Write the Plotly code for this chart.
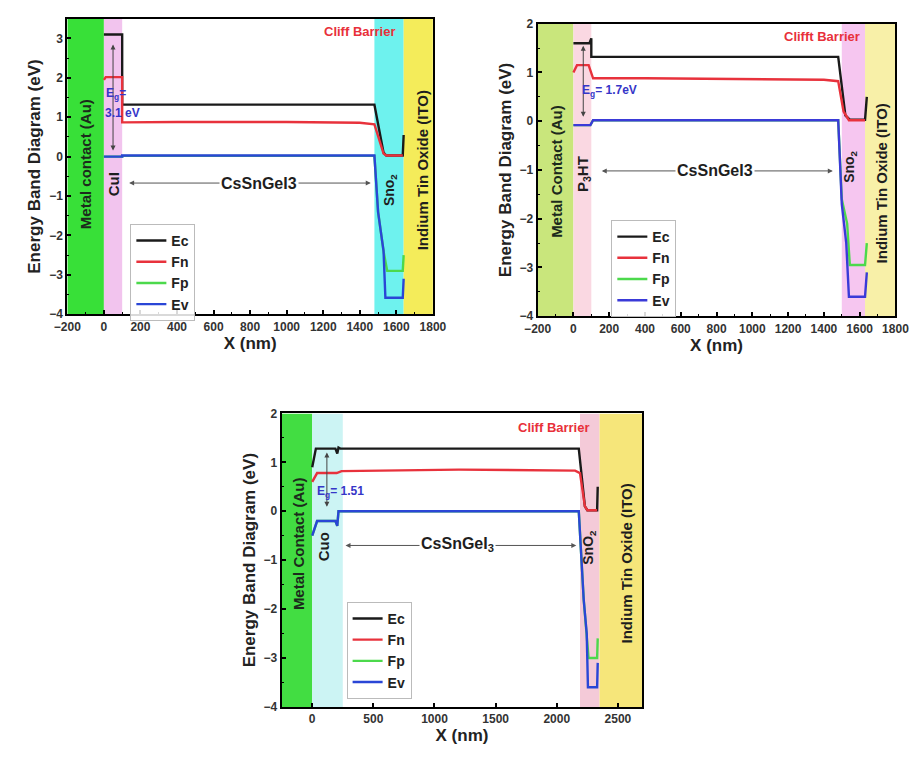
import plotly.graph_objects as go

# ---------------- data ----------------
# Panel A : Au / CuI / CsSnGeI3 / SnO2 / ITO
a_ec_x = [0, 100, 100, 1480, 1530, 1545, 1635, 1640]
a_ec_y = [3.1, 3.1, 1.32, 1.32, 0.1, 0.03, 0.03, 0.55]
a_fn_x = [0, 10, 100, 100, 400, 1000, 1400, 1480, 1530, 1545, 1635]
a_fn_y = [1.95, 2.02, 2.02, 0.87, 0.88, 0.88, 0.86, 0.82, 0.08, 0.03, 0.03]
a_fp_x = [0, 100, 100, 1480, 1500, 1530, 1550, 1635, 1640]
a_fp_y = [0.0, 0.0, 0.02, 0.02, -1.4, -2.4, -2.9, -2.9, -2.5]
a_ev_x = [0, 100, 100, 1480, 1500, 1530, 1540, 1635, 1640]
a_ev_y = [0.0, 0.0, 0.03, 0.03, -1.4, -2.4, -3.58, -3.58, -3.1]

# Panel B : Au / P3HT / CsSnGeI3 / SnO2 / ITO
b_ec_x = [0, 90, 95, 100, 100, 1480, 1520, 1545, 1630, 1640]
b_ec_y = [1.6, 1.6, 1.65, 1.7, 1.32, 1.32, 0.12, 0.03, 0.03, 0.5]
b_fn_x = [0, 20, 85, 110, 400, 1000, 1400, 1480, 1510, 1540, 1630]
b_fn_y = [1.0, 1.15, 1.15, 0.88, 0.88, 0.87, 0.85, 0.82, 0.2, 0.02, 0.02]
b_fp_x = [0, 95, 110, 1480, 1500, 1530, 1545, 1630, 1640]
b_fp_y = [-0.08, -0.08, 0.02, 0.02, -1.6, -2.1, -2.95, -2.95, -2.5]
b_ev_x = [0, 95, 110, 1480, 1500, 1525, 1540, 1630, 1640]
b_ev_y = [-0.08, -0.08, 0.02, 0.02, -1.7, -2.5, -3.6, -3.6, -3.1]

# Panel C : Au / CuO / CsSnGeI3 / SnO2 / ITO
c_ec_x = [0, 30, 190, 205, 215, 230, 1200, 2180, 2230, 2250, 2330, 2335]
c_ec_y = [0.9, 1.28, 1.28, 1.18, 1.3, 1.28, 1.28, 1.28, 0.1, 0.02, 0.02, 0.5]
c_fn_x = [0, 40, 200, 240, 1200, 2150, 2190, 2230, 2250, 2330]
c_fn_y = [0.6, 0.78, 0.78, 0.82, 0.85, 0.83, 0.78, 0.1, 0.02, 0.02]
c_fp_x = [0, 40, 190, 205, 215, 230, 2180, 2220, 2245, 2260, 2330, 2335]
c_fp_y = [-0.5, -0.2, -0.2, -0.3, 0.0, 0.0, 0.0, -1.8, -2.5, -3.0, -3.0, -2.6]
c_ev_x = [0, 40, 190, 205, 215, 230, 2180, 2220, 2245, 2255, 2330, 2335]
c_ev_y = [-0.5, -0.2, -0.2, -0.3, 0.0, 0.0, 0.0, -1.8, -2.5, -3.6, -3.6, -3.1]

series_names = ["Ec", "Fn", "Fp", "Ev"]
series_colors = ["#1a1a1a", "#e8323c", "#4cd94c", "#2a46d6"]

# layer regions (x start, x end, colour)
a_layers = [(-200, 0, "#38e038"), (0, 100, "#f2c4ee"), (1480, 1640, "#6ef2ee"), (1640, 1800, "#f4ec5a")]
b_layers = [(-200, 0, "#c9e67c"), (0, 100, "#fad8e2"), (1500, 1630, "#f6c6f0"), (1630, 1800, "#f8f0a8")]
c_layers = [(-250, 0, "#42dd42"), (0, 250, "#ccf4f4"), (2190, 2350, "#f4cad8"), (2350, 2700, "#f6e67a")]

fig = go.Figure()

panels = [
    dict(xa="x", ya="y", leg="legend",
         data=[(a_ec_x, a_ec_y), (a_fn_x, a_fn_y), (a_fp_x, a_fp_y), (a_ev_x, a_ev_y)], layers=a_layers,
         yr=[-4, 3.5]),
    dict(xa="x2", ya="y2", leg="legend2",
         data=[(b_ec_x, b_ec_y), (b_fn_x, b_fn_y), (b_fp_x, b_fp_y), (b_ev_x, b_ev_y)], layers=b_layers,
         yr=[-4, 2]),
    dict(xa="x3", ya="y3", leg="legend3",
         data=[(c_ec_x, c_ec_y), (c_fn_x, c_fn_y), (c_fp_x, c_fp_y), (c_ev_x, c_ev_y)], layers=c_layers,
         yr=[-4, 2]),
]

for p in panels:
    for i in range(4):
        xs, ys = p["data"][i]
        col = series_colors[i]
        if p["xa"] == "x2" and i == 3:
            col = "#3a3ad8"
        fig.add_trace(go.Scatter(x=xs, y=ys, mode="lines", name=series_names[i],
                                 line=dict(color=col, width=2.4),
                                 xaxis=p["xa"], yaxis=p["ya"], legend=p["leg"]))
    for (x0, x1, c) in p["layers"]:
        fig.add_shape(type="rect", xref=p["xa"], yref=p["ya"], x0=x0, x1=x1,
                      y0=p["yr"][0], y1=p["yr"][1], fillcolor=c, line=dict(width=0), layer="below")

# ---------------- axes ----------------
axis_common = dict(showgrid=False, zeroline=False, showline=True, linecolor="black", linewidth=2,
                   mirror=True, ticks="inside", ticklen=4, tickwidth=1.5, tickcolor="black",
                   minor=dict(ticks="inside", ticklen=2, tickwidth=1, tickcolor="black", nticks=2),
                   tickfont=dict(family="Liberation Sans", size=12, color="#333", weight="bold"))
title_font = dict(family="Liberation Sans", size=17, color="#222", weight="bold")

W, H = 924, 761
def dx(a, b):
    return [a / W, b / W]
def dy(top, bot):
    return [1 - bot / H, 1 - top / H]

fig.update_layout(
    xaxis=dict(domain=dx(55, 432), range=[-200, 1800], dtick=200, anchor="y",
               title=dict(text="X (nm)", font=title_font, standoff=2), **axis_common),
    yaxis=dict(domain=dy(12, 313), range=[-4, 3.5], dtick=1, anchor="x",
               title=dict(text="Energy Band Diagram (eV)", font=title_font, standoff=4), **axis_common),
    xaxis2=dict(domain=dx(540, 909), range=[-200, 1800], dtick=200, anchor="y2",
                title=dict(text="X (nm)", font=title_font, standoff=2), **axis_common),
    yaxis2=dict(domain=dy(17, 315), range=[-4, 2], dtick=1, anchor="x2",
                title=dict(text="Energy Band Diagram (eV)", font=title_font, standoff=4), **axis_common),
    xaxis3=dict(domain=dx(276, 648), range=[-250, 2700], dtick=500, anchor="y3",
                title=dict(text="X (nm)", font=title_font, standoff=2), **axis_common),
    yaxis3=dict(domain=dy(414, 713), range=[-4, 2], dtick=1, anchor="x3",
                title=dict(text="Energy Band Diagram (eV)", font=title_font, standoff=4), **axis_common),
)

leg_common = dict(bgcolor="rgba(255,255,255,0.85)", bordercolor="#bbbbbb", borderwidth=1,
                  font=dict(family="Liberation Sans", size=14, color="#222", weight="bold"),
                  xanchor="left", yanchor="top", tracegroupgap=0, itemwidth=30)
fig.update_layout(
    legend=dict(x=120 / W, y=1 - 221 / H, **leg_common),
    legend2=dict(x=616 / W, y=1 - 217 / H, **leg_common),
    legend3=dict(x=343 / W, y=1 - 606 / H, **leg_common),
)

# ---------------- annotations ----------------
def txt(xa, ya, x, y, text, color="#1e1e1e", size=13, angle=0, bg=None, xanchor="center"):
    d = dict(xref=xa, yref=ya, x=x, y=y, text=text, showarrow=False, textangle=angle, xanchor=xanchor,
             font=dict(family="Liberation Sans", size=size, color=color, weight="bold"))
    if bg:
        d["bgcolor"] = bg
    fig.add_annotation(**d)

def darrow(xa, ya, x0, y0, x1, y1, color="#555555"):
    fig.add_annotation(xref=xa, yref=ya, axref=xa, ayref=ya, x=x1, y=y1, ax=x0, ay=y0, text="",
                       showarrow=True, arrowhead=2, arrowsize=1, arrowwidth=1, arrowcolor=color,
                       arrowside="end+start")

red = "#e8303a"
blue = "#3636c8"
dark = "#1c2a1c"

# Panel A
txt("x", "y", -100, -0.2, "Metal contact (Au)", color=dark, size=15, angle=-90)
txt("x", "y", 50, -0.7, "CuI", size=15, angle=-90)
darrow("x", "y", 130, -0.67, 1460, -0.67)
txt("x", "y", 850, -0.67, "CsSnGeI3", size=16, bg="white")
txt("x", "y", 1565, -0.85, "Sno<sub>2</sub>", size=14, angle=-90)
txt("x", "y", 1745, -0.35, "Indium Tin Oxide (ITO)", size=15, angle=-90)
txt("x", "y", 1400, 3.18, "Cliff Barrier", color=red, size=13)
darrow("x", "y", 50, 0.12, 50, 2.85, color="#444444")
txt("x", "y", 0, 1.6, "E<sub>g</sub>=", color=blue, size=12, xanchor="left")
txt("x", "y", -5, 1.12, "3.1 eV", color=blue, size=12, xanchor="left")

# Panel B
txt("x2", "y2", -92, -1.02, "Metal Contact (Au)", color=dark, size=15, angle=-90)
txt("x2", "y2", 60, -1.08, "P<sub>3</sub>HT", size=15, angle=-90)
darrow("x2", "y2", 150, -1.02, 1450, -1.02)
txt("x2", "y2", 790, -1.02, "CsSnGeI3", size=16, bg="white")
txt("x2", "y2", 1545, -0.94, "Sno<sub>2</sub>", size=14, angle=-90)
txt("x2", "y2", 1724, -1.28, "Indium Tin Oxide (ITO)", size=15, angle=-90)
txt("x2", "y2", 1390, 1.74, "Clifft Barrier", color=red, size=13)
darrow("x2", "y2", 55, 0.06, 55, 1.55, color="#444444")
txt("x2", "y2", 35, 0.62, "E<sub>g</sub>= 1.7eV", color=blue, size=12, xanchor="left")

# Panel C
txt("x3", "y3", -107, -0.67, "Metal Contact (Au)", color=dark, size=15, angle=-90)
txt("x3", "y3", 99, -0.73, "Cuo", size=15, angle=-90)
darrow("x3", "y3", 260, -0.7, 2160, -0.7)
txt("x3", "y3", 1185, -0.69, "CsSnGeI<sub>3</sub>", size=16, bg="white")
txt("x3", "y3", 2262, -0.73, "SnO<sub>2</sub>", size=14, angle=-90)
txt("x3", "y3", 2574, -1.07, "Indium Tin Oxide (ITO)", size=15, angle=-90)
txt("x3", "y3", 1980, 1.72, "Cliff Barrier", color=red, size=13)
darrow("x3", "y3", 120, 0.06, 120, 1.2, color="#444444")
txt("x3", "y3", 20, 0.4, "E<sub>g</sub>= 1.51", color=blue, size=12, xanchor="left")

fig.update_layout(width=W, height=H, margin=dict(l=0, r=0, t=0, b=0),
                  paper_bgcolor="white", plot_bgcolor="white", showlegend=True)

fig.write_html("out.html")
